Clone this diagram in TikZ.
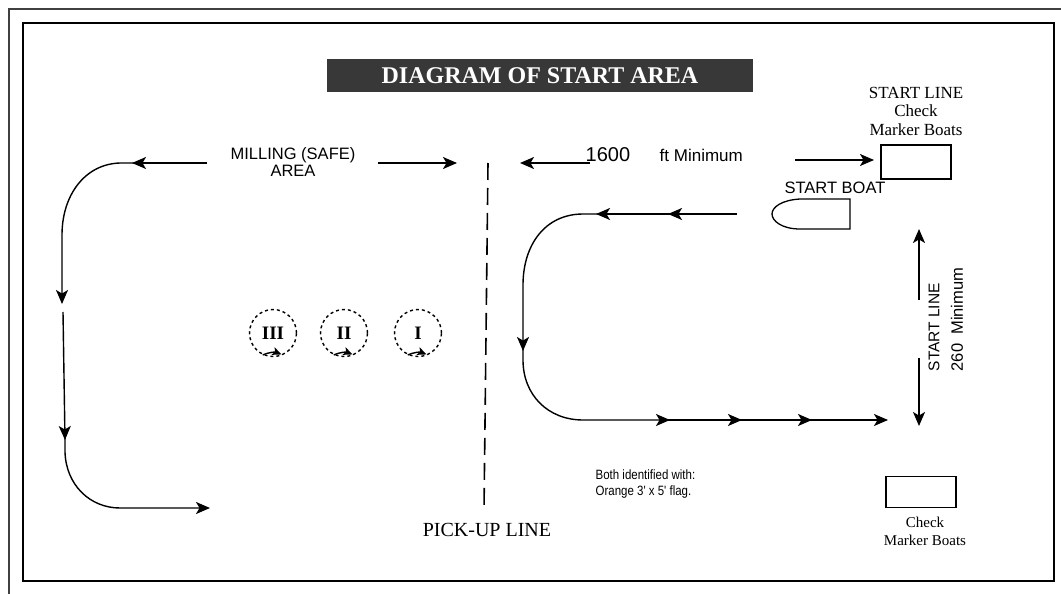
\documentclass[tikz,border=0pt]{standalone}
\usepackage{fontspec}
\setmainfont{Liberation Serif}
\newfontfamily\sansf{Liberation Sans}
\newfontfamily\condf[FakeStretch=0.85]{Liberation Sans}
\usetikzlibrary{arrows.meta}
\begin{document}
\begin{tikzpicture}[x=1pt,y=-1pt,line width=1.4pt,
  tip/.style={-{Stealth[length=14pt,width=12pt,inset=3.5pt]}},
  lbl/.style={inner sep=0pt,align=center},
  boatbox/.style={draw,line width=1.5pt,minimum width=70,minimum height=34,inner sep=0pt}]
\useasboundingbox (0,0) rectangle (1061,594);
% frames
\draw[black!75,line width=1.6pt] (9,594) -- (9,9) -- (1061,9);
\draw[line width=1.6pt] (23,23) rectangle (1054,581);
% title
\node[fill=black!78,minimum width=426,minimum height=33,inner sep=0pt,text=white,
  font=\fontsize{24}{26}\selectfont\bfseries] (title) at (540,76) {DIAGRAM OF START AREA};
% top labels
\node[lbl,font=\sansf\fontsize{16.5}{17}\selectfont] (mill) at (293,162) {MILLING (SAFE)\\AREA};
\node[lbl,font=\sansf\fontsize{20}{20}\selectfont,anchor=west] (dist) at (585,155) {1600};
\node[lbl,font=\sansf\fontsize{17}{17}\selectfont,anchor=west] (mini) at (659,155) {ft Minimum};
\node[lbl,font=\fontsize{17}{18.5}\selectfont] (sltop) at (916,111) {START LINE\\Check\\Marker Boats};
\node[lbl,font=\sansf\fontsize{16.5}{17}\selectfont] (sboat) at (835,188) {START BOAT};
% marker boats
\node[boatbox] (mb1) at (916,162) {};
\node[boatbox,minimum height=31] (mb2) at (921,492) {};
\node[lbl,font=\fontsize{15}{18}\selectfont] (mb2l) at (925,531) {Check\\Marker Boats};
% start boat
\draw[line width=1.3pt] (850,199) -- (800,199) .. controls (782,200) and (772,207) .. (772,214)
  .. controls (772,221) and (782,229) .. (800,229) -- (850,229) -- cycle;
% distance arrows
\coordinate (a1s) at (207,163); \coordinate (a1e) at (132,163);
\coordinate (a2s) at (378,163); \coordinate (a2e) at (457,163);
\coordinate (a3s) at (590,163); \coordinate (a3e) at (520,163);
\coordinate (a4s) at (795,160); \coordinate (a4e) at (874,160);
\draw[tip] (a2s) -- (a2e);
\draw[tip] (a3s) -- (a3e);
\draw[tip] (a4s) -- (a4e);
% pick-up line
\coordinate (p1) at (488,163); \coordinate (p2) at (484,510);
\draw[dash pattern=on 17pt off 8pt,line width=1.6pt] (p1) -- (p2);
\node[lbl,font=\fontsize{20}{21}\selectfont] (pick) at (487,530) {PICK-UP LINE};
% left course
\draw[tip] (a1s) -- (a1e);
\draw[tip] (134,163) -- (120,163) .. controls (85,164) and (62,195) .. (62,235) -- (62,304);
\draw[tip] (63,312) -- (65,440);
\draw[tip] (65,436) -- (65,452) .. controls (66,485) and (90,508) .. (120,508) -- (210,508);
% circles
\foreach \n/\x/\t in {c3/273/III,c2/344/II,c1/418/I}{
  \node[circle,draw,dashed,line width=1.4pt,minimum size=47,inner sep=0pt,
    font=\fontsize{19}{19}\selectfont\bfseries] (\n) at (\x,333) {\t};
  \draw[-{Stealth[length=9pt,width=8pt,inset=2pt]},line width=1.4pt] (\n.-115) arc[start angle=-115,end angle=-68,radius=23.5];
}
% right course
\draw[tip] (737,214) -- (668,214);
\draw[tip] (673,214) -- (596,214);
\draw[tip] (602,214) -- (583,214) .. controls (545,214) and (523,245) .. (523,285) -- (523,351);
\draw[tip] (523,346) -- (523,360) .. controls (523,395) and (548,420) .. (583,420) -- (670,420);
\draw[tip] (664,420) -- (742,420);
\draw[tip] (736,420) -- (812,420);
\draw[tip] (806,420) -- (888,420);
% start line arrow
\coordinate (v1) at (919,300); \coordinate (v2) at (919,229);
\coordinate (v3) at (919,358); \coordinate (v4) at (919,426);
\draw[tip] (v1) -- (v2);
\draw[tip] (v3) -- (v4);
\node[lbl,rotate=90,anchor=west,font=\sansf\fontsize{15.5}{16}\selectfont] (slr) at (934,372) {START LINE};
\node[lbl,rotate=90,anchor=west,font=\sansf\fontsize{16.5}{17}\selectfont] (mr) at (957,372) {260\ \ Minimum};
% flag note
\node[lbl,anchor=north west,align=left,font=\condf\fontsize{13.5}{16}\selectfont] (note) at (595,469) {Both identified with:\\Orange 3' x 5' flag.};
\end{tikzpicture}
\end{document}
